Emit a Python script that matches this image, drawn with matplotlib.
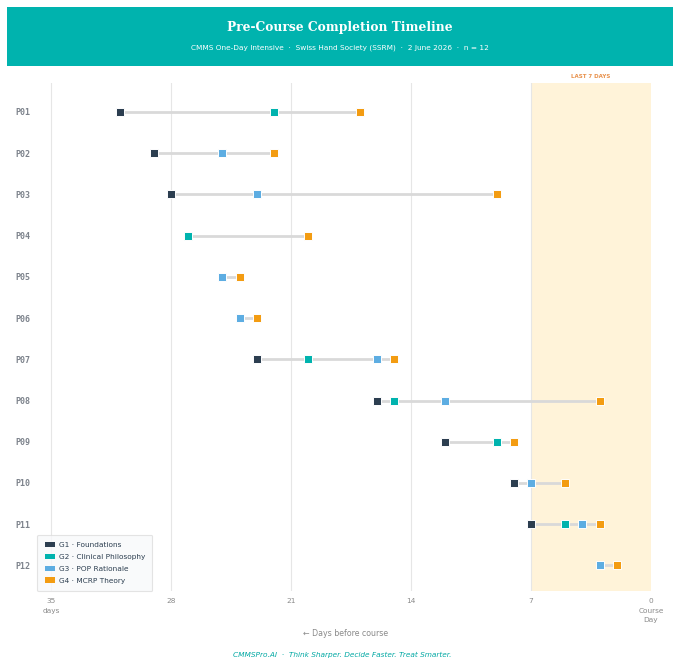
import numpy as np
import matplotlib
matplotlib.use("Agg")
import matplotlib.pyplot as plt
from matplotlib.patches import Rectangle, Patch

participants = ["P01", "P02", "P03", "P04", "P05", "P06", "P07", "P08", "P09", "P10", "P11", "P12"]
nan = np.nan
g1_foundations = [31, 29, 28, nan, nan, nan, 23, 16, 12, 8, 7, nan]
g2_clinical = [22, nan, nan, 27, nan, nan, 20, 15, 9, nan, 5, nan]
g3_pop = [nan, 25, 23, nan, 25, 24, 16, 12, nan, 7, 4, 3]
g4_mcrp = [17, 22, 9, 20, 24, 23, 15, 3, 8, 5, 3, 2]
group_labels = ["G1 · Foundations", "G2 · Clinical Philosophy", "G3 · POP Rationale", "G4 · MCRP Theory"]
group_colors = ["#2c3e50", "#00b3ae", "#5dade2", "#f39c12"]
xticks = [35, 28, 21, 14, 7, 0]
xticklabels = ["35\ndays", "28", "21", "14", "7", "0\nCourse\nDay"]

W, H = 680, 665
fig = plt.figure(figsize=(W / 100, H / 100), dpi=100)
fig.patch.set_facecolor("white")

# header
fig.patches.append(Rectangle((7 / W, 1 - 66 / H), 666 / W, 59 / H, transform=fig.transFigure,
                             facecolor="#00b3ae", edgecolor="none", zorder=0))
fig.text(0.5, 1 - 27 / H, "Pre-Course Completion Timeline", ha="center", va="center",
         color="white", fontsize=8.8, fontweight="bold", family="DejaVu Serif")
fig.text(0.5, 1 - 48 / H, "CMMS One-Day Intensive  ·  Swiss Hand Society (SSRM)  ·  2 June 2026  ·  n = 12",
         ha="center", va="center", color="white", fontsize=5.3)

ax_left, ax_right = 37.3 / W, 659.6 / W
ax_top, ax_bot = 1 - 83 / H, 1 - 591 / H
ax = fig.add_axes([ax_left, ax_bot, ax_right - ax_left, ax_top - ax_bot])
ax.set_xlim(35.8, -0.5)
ax.set_ylim(len(participants) - 0.38, -0.7)

ax.axvspan(7, 0, color="#fff3d9", zorder=0, lw=0)
ax.text(3.5, 1.008, "LAST 7 DAYS", transform=ax.get_xaxis_transform(), ha="center", va="bottom",
        color="#e8904a", fontsize=4.0, fontweight="bold")

for x in xticks[:-1]:
    ax.axvline(x, color="#e6e6e6", lw=0.8, zorder=0.5)

groups = [g1_foundations, g2_clinical, g3_pop, g4_mcrp]
for i in range(len(participants)):
    vals = [g[i] for g in groups if not np.isnan(g[i])]
    ax.plot([min(vals), max(vals)], [i, i], color="#d9d9d9", lw=2.0, zorder=1, solid_capstyle="butt")

for g, c in zip(groups, group_colors):
    ax.plot(g, range(len(participants)), linestyle="none", marker="s", markersize=6.2,
            markerfacecolor=c, markeredgecolor="white", markeredgewidth=0.7, zorder=3)

ax.set_yticks(range(len(participants)))
ax.set_yticklabels(participants, family="DejaVu Sans Mono", fontweight="bold", fontsize=6.0, color="#7d838c")
ax.set_xticks(xticks)
ax.set_xticklabels(xticklabels, fontsize=5.3, color="#8a8a8a", linespacing=1.75)
ax.tick_params(axis="both", length=0)
ax.tick_params(axis="y", pad=5)
ax.tick_params(axis="x", pad=5)
for s in ax.spines.values():
    s.set_visible(False)
ax.set_facecolor("none")

handles = [Patch(facecolor=c, edgecolor="none") for c in group_colors]
leg = ax.legend(handles, group_labels, loc="lower left", fontsize=5.3, frameon=True,
                borderaxespad=0.0, handletextpad=0.55, labelspacing=0.75, borderpad=1.0,
                handlelength=1.35, handleheight=0.75, labelcolor="#2c3e50", bbox_to_anchor=(0.0, 0.0))
leg.get_frame().set_facecolor("#f8f9fb")
leg.get_frame().set_edgecolor("#dddddd")
leg.get_frame().set_linewidth(0.8)

fig.text(346 / W, 1 - 633 / H, "← Days before course", ha="center", va="center", color="#8a8a8a", fontsize=5.7)
fig.text(342 / W, 1 - 655 / H, "CMMSPro.AI  ·  Think Sharper. Decide Faster. Treat Smarter.",
         ha="center", va="center", color="#00a8a3", fontsize=5.3, style="italic")

fig.savefig("out.png", dpi=100, facecolor="white")
